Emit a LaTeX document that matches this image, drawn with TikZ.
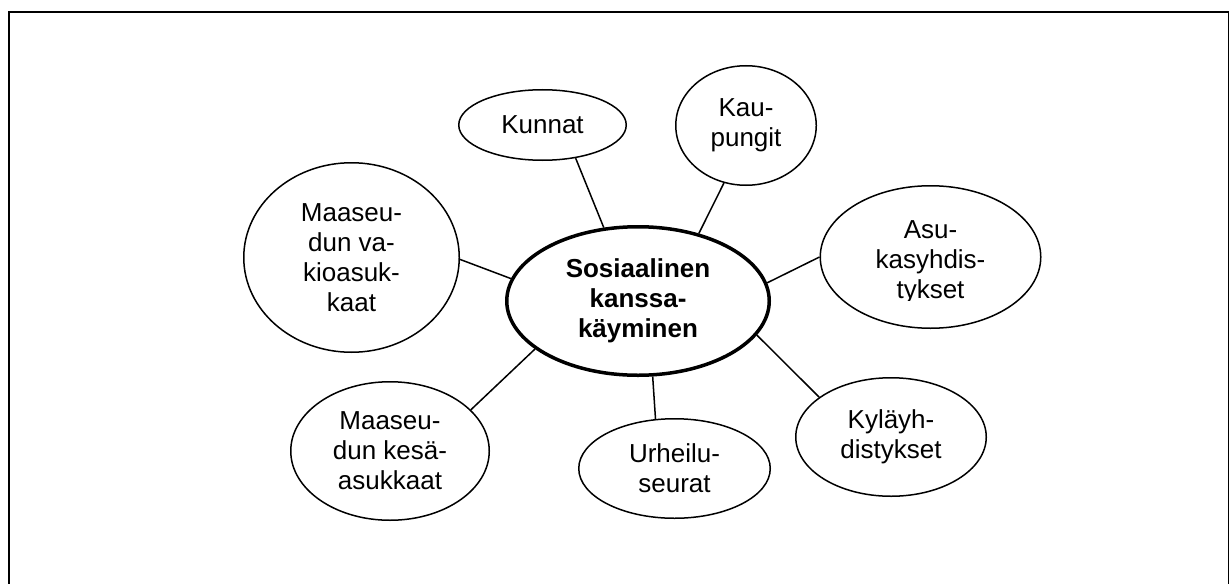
\documentclass[tikz,border=0pt]{standalone}
\usepackage{fontspec}
\setmainfont{Liberation Sans}
\usetikzlibrary{shapes.geometric}
\begin{document}
\begin{tikzpicture}[x=0.5pt,y=-0.5pt,
  txt/.style={align=center, inner sep=0pt, font=\fontsize{13}{15}\selectfont},
  bub/.style={txt, draw, ellipse, line width=0.75pt},
  hub/.style={bub, line width=1.75pt, font=\fontsize{13}{15}\selectfont\bfseries},
  link/.style={line width=0.75pt},
  frame/.style={line width=1pt}]
\useasboundingbox (0,0) rectangle (1229,583);
\coordinate (f1) at (9,590);
\coordinate (f2) at (9,12);
\coordinate (f3) at (1229,12);
\coordinate (f4) at (1229,590);
\draw[frame] (f1) -- (f2) -- (f3) -- (f4);

\node[hub, minimum width=131.25pt, minimum height=74.25pt] (hub) at (638,301)
  {Sosiaalinen\\kanssa-\\käyminen};
\node[bub, minimum width=83.75pt, minimum height=35.25pt] (kun) at (542.5,125) {Kunnat};
\node[bub, minimum width=70.25pt, minimum height=59.75pt] (kau) at (746,125.5) {Kau-\\pungit};
\node[bub, minimum width=107.75pt, minimum height=94.75pt] (vak) at (351.5,257.5)
  {Maaseu-\\dun va-\\kioasuk-\\kaat};
\node[bub, minimum width=110.25pt, minimum height=71.25pt] (asu) at (930.5,257) {};
\begin{scope}
  \clip (800,180) rectangle (1060,300);
  \node[txt] (asutext) at ([yshift=-2.5pt]asu.center) {Asu-\\kasyhdis-\\tykset};
\end{scope}
\node[bub, minimum width=95.25pt, minimum height=59.25pt] (kyl) at (891,437) {Kyläyh-\\distykset};
\node[bub, minimum width=95.75pt, minimum height=49.75pt] (urh) at (674.5,468.5) {Urheilu-\\seurat};
\node[bub, minimum width=99.25pt, minimum height=69.25pt] (kes) at (390,451)
  {Maaseu-\\dun kesä-\\asukkaat};

\draw[link] (hub.115.3) -- (kun.-45.4);
\draw[link] (hub.48.1) -- (kau.-111.1);
\draw[link] (hub.8.1) -- (asu.180.5);
\draw[link] (hub.-16.8) -- (kyl.151.3);
\draw[link] (hub.-79.7) -- (urh.111.8);
\draw[link] (hub.-155.2) -- (kes.27.8);
\draw[link] (hub.170.2) -- (vak.-1);
\end{tikzpicture}
\end{document}
